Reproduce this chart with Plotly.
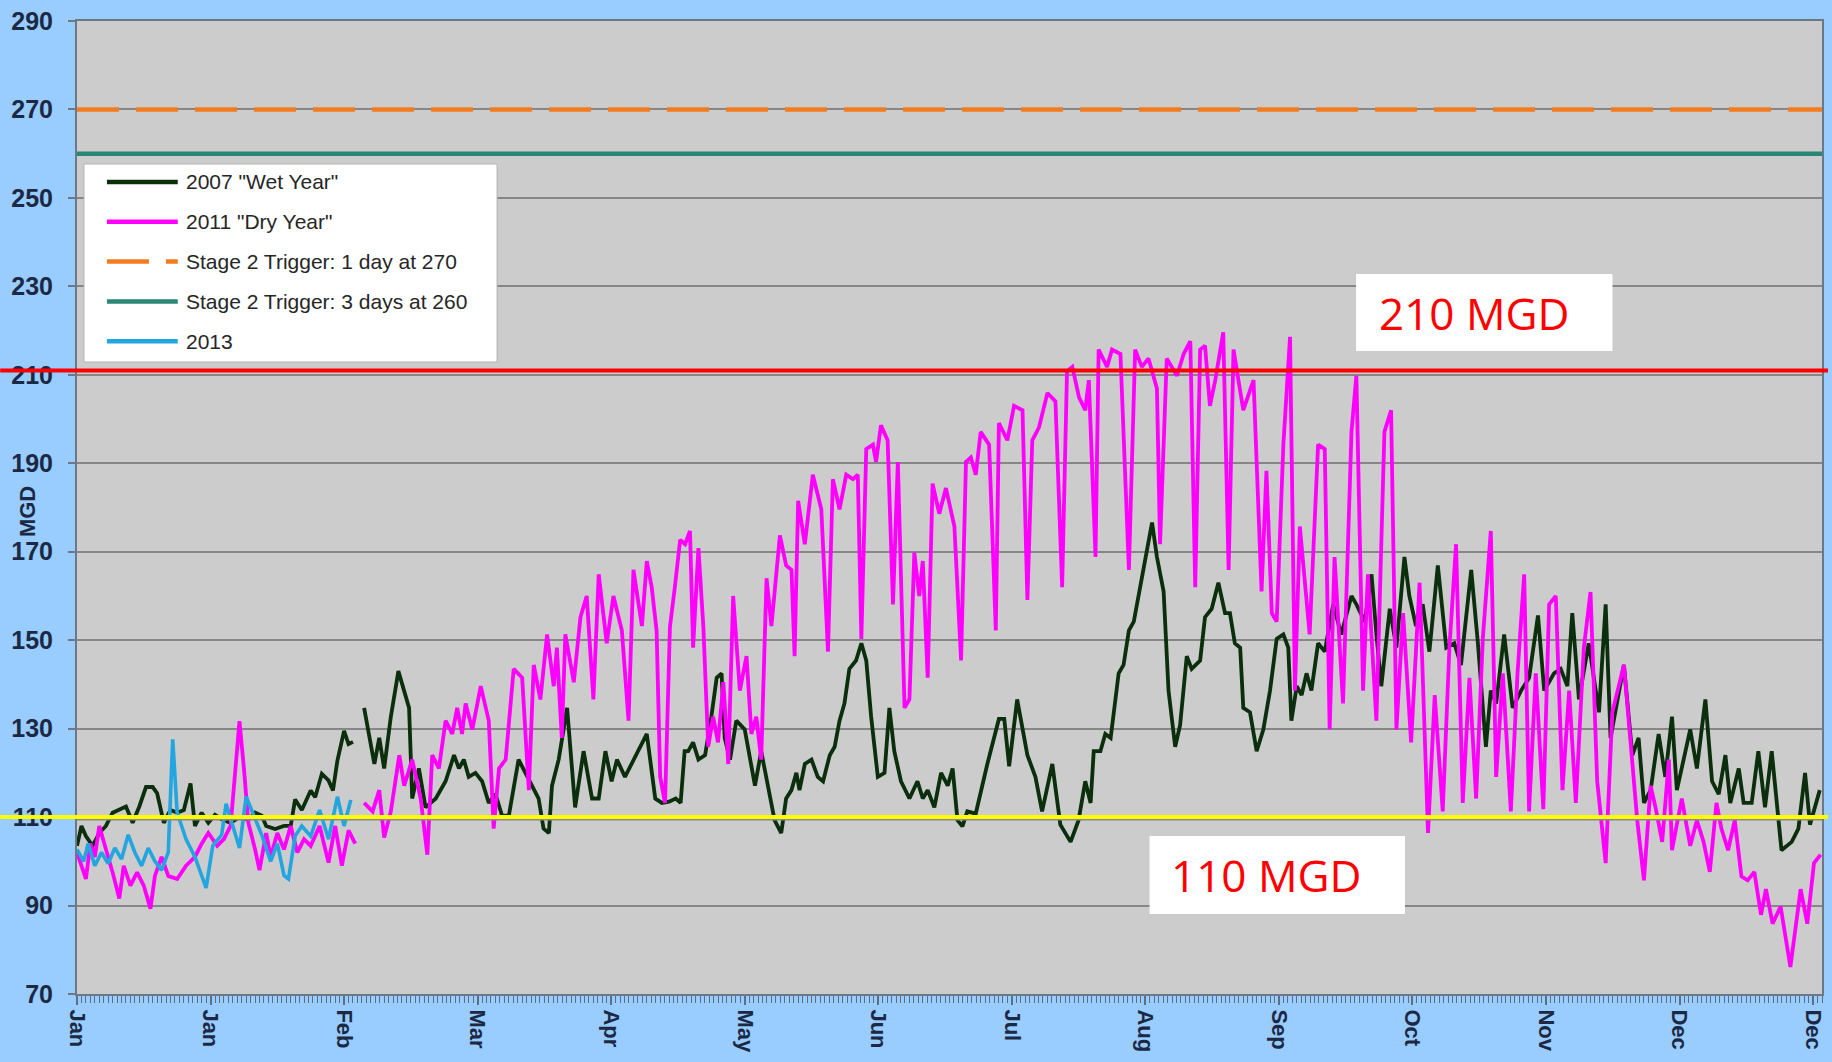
import plotly.graph_objects as go

# ---------------- data ----------------
MONTH_LABELS = ["Jan", "Jan", "Feb", "Mar", "Apr", "May", "Jun", "Jul",
                "Aug", "Sep", "Oct", "Nov", "Dec", "Dec"]
DAYS_PER_TICK = 30
X_MAX = 392
Y_MIN, Y_MAX, Y_STEP = 70, 290, 20

TRIGGER_1DAY = 270
TRIGGER_3DAY = 260
LEVEL_HIGH = 211      # marker line labelled "210 MGD"
LEVEL_LOW = 110       # marker line labelled "110 MGD"

# (day on axis, MGD); None = gap in the record
WET_2007 = [
    (0, 103.5), (1, 108), (2, 105.7), (3.5, 103.5), (5, 106.4), (6.5, 108), (8, 111), (9.5, 111.6),
    (11, 112.4), (12.5, 108.7), (14, 112.4), (15.5, 116.8), (17, 116.8), (18, 115.4), (19.5, 108.7),
    (21, 111.6), (22.5, 111), (24, 111.6), (25.5, 117.6), (26.5, 108), (28, 111), (29.5, 108.7),
    (31, 110.5), (32.5, 109.5), (34.5, 108.7), (36.5, 110), (38.5, 109.4), (40, 111), (41.5, 110.3),
    (42.5, 108), (44.5, 107.3), (46.5, 108), (48, 108), (49, 114), (50.5, 111.6), (52.5, 116),
    (53.5, 114.5), (55, 119.8), (56.5, 118.3), (57.5, 116), (58.5, 122.8), (60, 129.5), (61, 126.5),
    (62, 127), (63.3, None),
    (64.5, 134.7), (66.8, 122), (67.9, 127.9), (69, 121), (70.5, 132.7), (72.2, 143), (74.6, 134.7),
    (75.3, 114.2), (76.8, 121), (78.3, 112.2), (80.6, 114.2), (82.8, 118.1), (84.7, 124), (85.8, 121),
    (86.9, 123), (88, 119.1), (89.5, 120), (91, 118.1), (92.5, 113.2), (94, 115.2), (95.5, 110.3),
    (97, 110.3), (99.2, 123), (100.7, 120), (102.2, 117.1), (103.7, 114.2), (104.8, 107.4), (106, 106.4),
    (106.7, 117.1), (108.2, 123), (110.1, 134.7), (111.9, 112.2), (113.8, 124.9), (115.7, 114.2),
    (117.2, 114.2), (118.7, 124.9), (120.1, 118.1), (121.3, 123), (123.1, 119.1), (124.6, 122),
    (128, 128.8), (129.9, 114.2), (131.4, 113.2), (133, 113.5), (134.5, 114.2), (135.6, 113.2),
    (136.5, 124.9), (137.3, 124.9), (138.4, 126.9), (139.6, 123), (141.1, 124), (142.5, 132.7),
    (143.7, 141.5), (144.8, 142.5), (145.5, 127.9), (146.7, 123), (148.1, 131.8), (150, 129.8),
    (152.3, 117.1), (153.7, 124.9), (155.2, 117.1), (156.7, 109.3), (158.2, 106.4), (159.3, 114.2),
    (160.5, 116.1), (161.6, 120), (162.3, 116.1), (163.5, 122), (165, 123), (166.4, 119.1),
    (167.6, 118.1), (169.1, 124), (170.2, 125.9), (171.3, 131.8), (172.4, 135.7), (173.5, 143.5),
    (175, 145.4), (176.2, 149.3), (177.3, 145.4), (178.4, 132.7), (179.9, 119.1), (181.4, 120),
    (182.5, 134.7), (183.6, 124.9), (185.1, 118.1), (187, 114.2), (188.8, 118.1), (190, 114.2),
    (191.1, 116.1), (192.6, 112.2), (194.1, 120), (195.6, 117.1), (196.7, 121), (197.8, 109.3),
    (198.9, 107.9), (200, 111.3), (201.9, 110.8), (204.5, 122), (207.1, 132.2), (208.3, 132.2),
    (209.4, 121.5), (211.2, 136.6), (213.5, 124), (215.3, 119.1), (216.8, 111.3), (219.1, 122),
    (220.9, 108.3), (223.2, 104.4), (225, 109.3), (226.5, 118.1), (227.7, 113.2), (228.4, 124.9),
    (229.9, 124.9), (231, 128.8), (232.2, 127.9), (234, 142.5), (235.1, 144.4), (236.3, 152.2),
    (237.4, 154.2), (239.2, 164), (241.5, 176.6), (242.6, 168.8), (244.1, 161), (245.2, 138.6),
    (246.7, 125.9), (247.8, 130.8), (249.3, 146.4), (250.4, 143.5), (252.3, 145.4), (253.4, 155.2),
    (254.9, 157.1), (256.4, 163), (257.9, 156.1), (259, 156.1), (260.1, 149.3), (261.3, 148.3),
    (262, 134.7), (263.5, 133.7), (265, 124.9), (266.5, 129.8), (268, 138.6), (269.5, 150.3),
    (271, 151.3), (272.1, 148.3), (272.8, 131.8), (274, 139.6), (275.1, 137.6), (276.2, 142.5),
    (277.3, 138.6), (278.8, 149.3), (280.3, 147.4), (282.2, 158.1), (284, 151.3), (286.3, 160),
    (287.4, 158.1), (289.3, 154.2), (290.8, 164.9), (291.9, 151.3), (293, 139.6), (294.9, 157.1),
    (296.4, 148.3), (298.2, 168.8), (299.3, 160), (300.8, 153.2), (302.3, 158.1), (303.8, 147.4),
    (305.7, 166.9), (307.6, 148.3), (309.4, 149.3), (310.9, 144.4), (313.2, 165.9), (314.7, 149.3),
    (316.5, 125.9), (317.6, 138.6), (318.8, 135.7), (320.6, 151.3), (322.5, 134.7), (324.4, 138.6),
    (326.2, 141.5), (328.2, 155.6), (329.6, 138.6), (331.8, 142.5), (333.3, 143.5), (334.8, 139.6),
    (335.9, 156.1), (337.4, 136.6), (339.6, 149.3), (341.9, 133.7), (343.4, 158.1), (344.5, 127.9),
    (347.5, 144.4), (349.4, 124), (350.8, 127.9), (352, 113.2), (353.5, 116.1), (355.3, 128.8),
    (356.8, 119.1), (358.3, 132.7), (359.4, 116.1), (362.4, 129.8), (363.9, 121), (365.8, 136.6),
    (367.3, 118.1), (368.8, 115.2), (370.3, 124), (371.4, 113.2), (373.3, 121), (374.4, 113.2),
    (376.2, 113.2), (377.7, 124.9), (379.2, 112.2), (380.7, 124.9), (382.9, 102.5), (385.2, 104.4),
    (386.7, 107.4), (388.2, 120), (389.3, 108.3), (391.5, 116.1),
]

DRY_2011 = [
    (0, 102), (1, 99), (2, 96), (3, 104), (4, 101), (5, 108), (6.5, 103), (8, 97.5), (9.5, 91.6),
    (10.5, 99), (12, 94.5), (13.5, 97.5), (15, 94.5), (16.5, 89.3), (17.5, 96.7), (19, 101),
    (20.5, 96.7), (22.5, 96), (24.5, 99), (26.5, 101), (28, 104), (29.5, 106.4), (31.5, 103.5),
    (33, 105), (34.5, 108), (35.5, 121), (36.5, 131.7), (37.5, 121), (38.5, 108.7), (40, 102.7),
    (41, 98), (42.5, 106.4), (43.5, 101), (45, 106.4), (46.5, 102.7), (48, 108), (49.5, 102),
    (51, 105), (52.5, 103.5), (54.5, 108), (56.5, 99.7), (58, 108), (59.5, 99), (61, 107), (62.5, 104),
    (63.3, None),
    (64.5, 113.2), (66.4, 111.3), (67.9, 116.1), (69, 105.4), (70.5, 111.3), (72.4, 124), (73.5, 117.1),
    (75.3, 123), (77.2, 114.2), (78.7, 101.5), (79.8, 124), (81.3, 121), (82.8, 131.8), (84.3, 128.8),
    (85.4, 134.7), (86.5, 128.8), (87.3, 135.7), (88.8, 129.8), (90.7, 139.6), (92.5, 131.8),
    (93.6, 107.4), (94.8, 121), (96.3, 123), (98.1, 143.5), (100, 141.5), (101.5, 116.1),
    (102.6, 144.4), (104.1, 136.6), (105.6, 151.3), (107.1, 139.6), (107.8, 148.3), (108.9, 127.9),
    (109.7, 151.3), (111.6, 140.5), (113.1, 155.2), (114.5, 160), (116, 136.6), (117.2, 164.9),
    (119, 149.3), (120.5, 160), (122.4, 152.2), (123.9, 131.8), (125, 165.9), (126.9, 153.2),
    (128, 167.9), (129.1, 162), (130.2, 152.2), (131, 119.1), (132.1, 113.2), (133.2, 153),
    (134.3, 162), (135.5, 172.7), (136.6, 171.7), (137.7, 174.7), (138.4, 148.3), (139.6, 170.8),
    (140.7, 153.2), (141.8, 125.9), (142.9, 132.7), (144, 126.9), (145.2, 140.5), (146.3, 122),
    (147.4, 160), (148.9, 138.6), (150.4, 146.4), (151.5, 128.8), (152.6, 132.7), (153.7, 123),
    (154.9, 164), (156, 153.2), (157.9, 173.7), (159.3, 166.9), (160.5, 165.9), (161.2, 146.4),
    (162, 181.5), (163.5, 171.7), (165.3, 187.4), (167.2, 179.6), (168.7, 147.4), (169.8, 186.4),
    (171.3, 179.6), (172.8, 187.4), (174.3, 186.4), (175.4, 187.4), (176.2, 150.3), (177.3, 193.2),
    (178.8, 194.2), (179.5, 190.3), (180.6, 198.6), (182.1, 195.2), (183.3, 158.1), (184.4, 190.3),
    (185.9, 134.7), (187, 136.6), (188.1, 169.8), (189.2, 160), (190, 167.9), (191.1, 141.5),
    (192.2, 185.4), (193.7, 178.6), (195.2, 184.4), (197.1, 175.7), (198.6, 145.4), (199.7, 190.3),
    (200.8, 191.3), (201.9, 187.4), (203, 197.1), (204.9, 194.2), (206.4, 152.2), (207.1, 199.1),
    (209, 195.2), (210.5, 203), (212.4, 202), (213.5, 159.1), (214.6, 195.2), (216.1, 198.1),
    (218, 205.9), (219.8, 204), (221.3, 162), (222.4, 210.8), (223.6, 211.8), (225.1, 204.9),
    (226.5, 202), (227.3, 208.8), (228.8, 168.8), (229.5, 215.7), (231.4, 211.8), (232.5, 215.7),
    (234.4, 214.7), (236.3, 165.9), (237.7, 215.7), (239.2, 211.8), (240.7, 213.7), (242.6, 206.9),
    (243.3, 171.7), (244.8, 213.7), (247.1, 209.8), (248.6, 214.7), (250.1, 217.6), (251.2, 162),
    (252.3, 215.7), (253.4, 216.6), (254.5, 203), (255.7, 208.8), (257.5, 219.6), (258.7, 165.9),
    (259.8, 215.7), (262, 202), (264.3, 208.8), (266.1, 161), (267.2, 188.3), (268.4, 156.1),
    (269.5, 154.2), (271, 194.2), (272.5, 218.6), (273.6, 138.6), (274.7, 175.7), (276.9, 151.3),
    (278.8, 194.2), (280.3, 193.2), (281.4, 129.8), (282.5, 168.8), (284.4, 135.7), (286.3, 197.1),
    (287.4, 209.8), (288.9, 138.6), (290, 164.9), (291.9, 131.8), (293.7, 197.1), (295.2, 202),
    (296.4, 129.8), (297.9, 156.1), (299.7, 126.9), (301.6, 163), (303.5, 106.4), (305, 137.6),
    (306.8, 111.3), (308.3, 148.3), (309.8, 171.7), (311.3, 113.2), (312.8, 141.5), (314.3, 114.2),
    (315.8, 150.3), (317.6, 174.7), (318.8, 119.1), (320.3, 142.5), (322.1, 111.3), (323.6, 142.5),
    (325.1, 164.9), (326.2, 111.3), (327.7, 142.5), (329.4, 111.8), (330.7, 158.1), (332.2, 160),
    (333.7, 116.1), (335.2, 138.6), (336.7, 113.2), (338.5, 148.3), (340, 160.9), (341.5, 118.1),
    (343.4, 99.6), (344.9, 133.7), (347.5, 144.4), (349.4, 122), (350.5, 109.3), (352, 95.7),
    (353.5, 117.1), (354.6, 112.2), (356.1, 104.4), (357.6, 123), (358.3, 102.5), (360.5, 114.2),
    (362.4, 103.5), (363.9, 109.3), (365.4, 104.4), (366.8, 97.6), (368.3, 113.2), (369.4, 107.4),
    (370.9, 102.5), (372.4, 109.3), (373.9, 96.6), (375.3, 95.7), (376.8, 97.6), (378.3, 87.9),
    (379.4, 93.7), (380.9, 85.9), (382.7, 89.8), (384.9, 76.1), (387.2, 93.7), (388.7, 85.9),
    (390.2, 99.6), (391.7, 101.5),
]

YEAR_2013 = [
    (0, 102.7), (1.5, 100), (2.5, 104), (4, 99), (5.5, 102), (7, 99.5), (8.5, 103), (10, 100.5),
    (11.5, 106), (13, 102), (14.5, 99), (16, 103), (17.5, 100), (19, 98), (20.5, 102), (21.5, 127.6),
    (22.5, 111), (24.5, 105), (26.5, 101), (29, 94), (30.5, 103.5), (32.5, 106), (33.5, 113),
    (35, 108), (36.5, 103), (38, 114.6), (39.5, 111), (41.5, 106), (43.5, 100), (45, 104),
    (46.5, 96.8), (47.5, 96), (49, 105.7), (50.5, 108), (52.5, 105.7), (54.5, 111.6), (56.5, 105),
    (58.5, 114.6), (60, 108), (61.5, 113.9),
]

# ---------------- styles ----------------
C_2007 = "#0b2e0d"
C_2011 = "#ff00ff"
C_2013 = "#23a6e0"
C_T1 = "#f47c20"
C_T3 = "#2a8775"
ORANGE_DASH = "42px,17px"
NAVY = "#1b2945"
AX_FONT = "Arial, 'Liberation Sans', sans-serif"

PLOT_L, PLOT_R, PLOT_T, PLOT_B = 77, 1826, 21, 994
FIG_W, FIG_H = 1832, 1062


def pxx(px):
    return (px - PLOT_L) / (PLOT_R - PLOT_L)


def pxy(py):
    return (PLOT_B - py) / (PLOT_B - PLOT_T)


def split(pairs):
    return [p[0] for p in pairs], [p[1] for p in pairs]


fig = go.Figure()

x07, y07 = split(WET_2007)
x11, y11 = split(DRY_2011)
x13, y13 = split(YEAR_2013)

fig.add_trace(go.Scatter(x=x07, y=y07, mode="lines", name='2007 "Wet Year"',
                         line=dict(color=C_2007, width=3.8)))
fig.add_trace(go.Scatter(x=x11, y=y11, mode="lines", name='2011 "Dry Year"',
                         line=dict(color=C_2011, width=3.8)))
fig.add_trace(go.Scatter(x=[0, X_MAX], y=[TRIGGER_1DAY, TRIGGER_1DAY], mode="lines",
                         name="Stage 2 Trigger: 1 day at 270",
                         line=dict(color=C_T1, width=4.5, dash=ORANGE_DASH)))
fig.add_trace(go.Scatter(x=[0, X_MAX], y=[TRIGGER_3DAY, TRIGGER_3DAY], mode="lines",
                         name="Stage 2 Trigger: 3 days at 260",
                         line=dict(color=C_T3, width=4.5)))
fig.add_trace(go.Scatter(x=x13, y=y13, mode="lines", name="2013",
                         line=dict(color=C_2013, width=3.6)))

tick_days = [i * DAYS_PER_TICK for i in range(len(MONTH_LABELS))]

fig.update_layout(
    width=FIG_W, height=FIG_H,
    margin=dict(l=PLOT_L, r=FIG_W - PLOT_R, t=PLOT_T, b=FIG_H - PLOT_B),
    paper_bgcolor="#99ccff",
    plot_bgcolor="#cccccc",
    showlegend=False,
    xaxis=dict(
        range=[0, X_MAX], tickvals=tick_days, ticktext=MONTH_LABELS,
        tickangle=90, showgrid=False, zeroline=False,
        ticks="outside", ticklen=9, tickwidth=1.5, tickcolor="#5f6f82",
        minor=dict(ticks="outside", dtick=1, tick0=0, ticklen=7, tickwidth=1,
                   tickcolor="#5f6f82", showgrid=False),
        tickfont=dict(family=AX_FONT, size=22, color=NAVY, weight="bold"),
        showline=True, linecolor="#6a7888", linewidth=2, mirror=True,
    ),
    yaxis=dict(
        range=[Y_MIN, Y_MAX], tickvals=list(range(Y_MIN, Y_MAX + 1, Y_STEP)),
        showgrid=True, gridcolor="#868686", gridwidth=1.5, zeroline=False,
        ticks="outside", ticklen=7, tickwidth=1.5, tickcolor="#6a7888",
        ticklabelstandoff=10,
        tickfont=dict(family=AX_FONT, size=25, color=NAVY, weight="bold"),
        showline=True, linecolor="#6a7888", linewidth=2, mirror=True,
    ),
)

shapes = []
annotations = []

# y-axis title
annotations.append(dict(xref="paper", yref="paper", x=pxx(27), y=pxy(512), text="MGD",
                        textangle=-90, showarrow=False, xanchor="center", yanchor="middle",
                        font=dict(family=AX_FONT, size=22, color=NAVY, weight="bold")))

# manual legend
shapes.append(dict(type="rect", xref="paper", yref="paper", x0=pxx(84), x1=pxx(498),
                   y0=pxy(164), y1=pxy(362), fillcolor="white",
                   line=dict(color="#b4b4b4", width=1), layer="above"))
legend_items = [
    ('2007 "Wet Year"', C_2007, "solid"),
    ('2011 "Dry Year"', C_2011, "solid"),
    ("Stage 2 Trigger: 1 day at 270", C_T1, ORANGE_DASH),
    ("Stage 2 Trigger: 3 days at 260", C_T3, "solid"),
    ("2013", C_2013, "solid"),
]
for i, (label, color, dash) in enumerate(legend_items):
    ry = 182 + i * 39.8
    shapes.append(dict(type="line", xref="paper", yref="paper", x0=pxx(107), x1=pxx(178),
                       y0=pxy(ry), y1=pxy(ry), line=dict(color=color, width=4.5, dash=dash),
                       layer="above"))
    annotations.append(dict(xref="paper", yref="paper", x=pxx(184), y=pxy(ry), text=label,
                            showarrow=False, xanchor="left", yanchor="middle",
                            font=dict(family=AX_FONT, size=21, color="#262626")))

# overlay marker lines spanning the whole picture
left_edge = pxx(0)
right_edge = pxx(FIG_W)
shapes.append(dict(type="line", xref="paper", yref="y", x0=left_edge, x1=right_edge,
                   y0=LEVEL_HIGH, y1=LEVEL_HIGH, line=dict(color="#ff0000", width=4), layer="above"))
shapes.append(dict(type="line", xref="paper", yref="y", x0=0, x1=1,
                   y0=LEVEL_LOW - 0.55, y1=LEVEL_LOW - 0.55, line=dict(color="#8a8a8a", width=2),
                   layer="above"))
shapes.append(dict(type="line", xref="paper", yref="y", x0=left_edge, x1=right_edge,
                   y0=LEVEL_LOW, y1=LEVEL_LOW, line=dict(color="#ffff00", width=4), layer="above"))

# labels in white boxes
for (bx0, by0, bx1, by1, tx, ty, txt) in [
    (1359, 274, 1616, 351, 1380, 313, "210 MGD"),
    (1152, 836, 1408, 914, 1172, 875, "110 MGD"),
]:
    shapes.append(dict(type="rect", xref="paper", yref="paper", x0=pxx(bx0), x1=pxx(bx1),
                       y0=pxy(by1), y1=pxy(by0), fillcolor="white", line=dict(width=0),
                       layer="above"))
    annotations.append(dict(xref="paper", yref="paper", x=pxx(tx), y=pxy(ty), text=txt,
                            showarrow=False, xanchor="left", yanchor="middle",
                            font=dict(family="'Open Sans', Lato, sans-serif", size=44,
                                      color="#ff0000")))

fig.update_layout(shapes=shapes, annotations=annotations)

fig.write_html("out.html",
               config={"displayModeBar": False},
               post_script="document.body.style.margin='0';document.body.style.overflow='hidden';")
